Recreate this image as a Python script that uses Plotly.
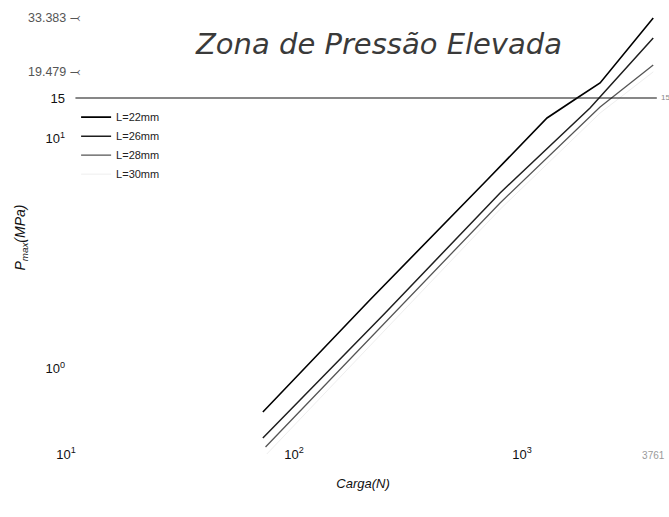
import math
import plotly.graph_objects as go

# Series (Carga in N, Pmax in MPa)
carga_22 = [73, 215, 702, 1287, 1743, 2199, 3761]
pmax_22 = [0.647, 1.985, 6.60, 12.28, 15.0, 17.43, 33.383]
carga_26 = [73, 251, 801, 1987, 3761]
pmax_26 = [0.499, 1.743, 5.797, 13.57, 27.35]
carga_28 = [75, 251, 801, 2199, 3761]
pmax_28 = [0.456, 1.577, 5.244, 13.71, 20.87]
carga_30 = [76, 251, 801, 2199, 3761]
pmax_30 = [0.425, 1.47, 4.92, 12.9, 19.479]

limite_carga = [11, 3900]
limite_pmax = [15, 15]

x_tickvals = [10, 100, 1000, 3761]
x_ticktext = ["10<sup>1</sup>", "10<sup>2</sup>", "10<sup>3</sup>",
              "<span style='color:#9a9a9a;font-size:10px'>3761</span>"]
y_tickvals = [1, 10, 15]
y_ticktext = ["10<sup>0</sup>", "10<sup>1</sup>", "15"]
marcas_pmax = [33.383, 19.479]

FONT = "Liberation Sans, Arial, sans-serif"

fig = go.Figure()
series = [
    ("L=22mm", carga_22, pmax_22, "#000000", 1.6),
    ("L=26mm", carga_26, pmax_26, "#1e1e1e", 1.5),
    ("L=28mm", carga_28, pmax_28, "#555555", 1.3),
    ("L=30mm", carga_30, pmax_30, "#eeeeee", 1.0),
]
for name, xs, ys, col, w in series:
    fig.add_trace(go.Scatter(x=xs, y=ys, mode="lines", name=name,
                             line=dict(color=col, width=w)))

fig.add_trace(go.Scatter(x=limite_carga, y=limite_pmax, mode="lines",
                         line=dict(color="#111111", width=1.2),
                         showlegend=False, hoverinfo="skip"))

# value markers on the left (log axis: annotation y is in log10 units)
for v in marcas_pmax:
    fig.add_annotation(x=0.028, xref="paper", y=math.log10(v), yref="y",
                       xanchor="right", yanchor="middle", showarrow=False,
                       text=f"{v:.3f} ⤙",
                       font=dict(family=FONT, size=12.5, color="#555555"))
fig.add_annotation(x=0.9985, xref="paper", y=math.log10(limite_pmax[0]), yref="y",
                   xanchor="left", yanchor="middle", showarrow=False, text="15",
                   font=dict(family=FONT, size=8, color="#888888"))

fig.update_layout(
    width=669, height=517,
    margin=dict(l=66, r=9, t=5, b=47),
    paper_bgcolor="white", plot_bgcolor="white",
    font=dict(family=FONT, size=13, color="#111111"),
    title=dict(text="<i>Zona de Pressão Elevada</i>",
               x=379 / 669, xanchor="center", y=1 - 44 / 517, yanchor="middle",
               font=dict(family="DejaVu Sans, sans-serif", size=29, color="#3a3a3a")),
    legend=dict(x=0.017, y=0.79, xanchor="left", yanchor="top",
                bgcolor="rgba(0,0,0,0)", borderwidth=0,
                font=dict(family=FONT, size=11, color="#222222")),
    showlegend=True,
)

fig.update_xaxes(type="log", range=[1, 3.605], showgrid=False, zeroline=False,
                 showline=False, ticks="", tickvals=x_tickvals, ticktext=x_ticktext,
                 anchor="free", position=0.054,
                 title=dict(text="<i>Carga(N)</i>", standoff=18,
                            font=dict(family=FONT, size=13, color="#111111")))
fig.update_yaxes(type="log", range=[-0.4413, 1.5804], showgrid=False, zeroline=False,
                 showline=False, ticks="", tickvals=y_tickvals, ticktext=y_ticktext,
                 title=dict(text="<i>P</i><sub><i>max</i></sub><i>(MPa)</i>", standoff=16,
                            font=dict(family=FONT, size=14, color="#111111")))

fig.write_html("out.html")
